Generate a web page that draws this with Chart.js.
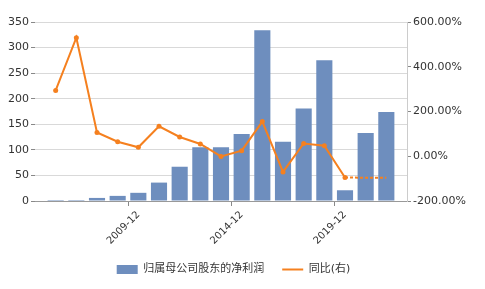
<!DOCTYPE html>
<html>
<head>
<meta charset="utf-8">
<script src="https://cdn.jsdelivr.net/npm/chart.js@4/dist/chart.umd.min.js"></script>
<style>
  html, body { margin: 0; padding: 0; background: #fff; }
  #wrap { width: 485px; height: 289px; }
</style>
</head>
<body>
<div id="wrap"><canvas id="c" width="485" height="289"></canvas></div>
<script>
// 报告期（首尾留空位）
const periods = ["", "2005-12", "2006-12", "2007-12", "2008-12", "2009-12", "2010-12", "2011-12", "2012-12",
  "2013-12", "2014-12", "2015-12", "2016-12", "2017-12", "2018-12", "2019-12", "2020-12", "2021-12", ""];
const shownTicks = ["2009-12", "2014-12", "2019-12"];

// 归属母公司股东的净利润
const netProfit = [null, 2, 2, 6, 10, 16, 36, 67, 105, 105, 131, 334, 116, 181, 275, 21, 133, 174, null];
// 同比(右) %
const yoy = [null, 294, 530, 106, 65, 40, 134, 86, 55, -1, 25, 155, -70, 57, 47, -95, -96, -96, null];

const leftTicks = { min: 0, max: 350, step: 50 };
const rightTicks = { min: -200, max: 600, step: 200 };

const font = { family: "'DejaVu Sans', 'Noto Sans CJK SC', sans-serif", size: 11 };
const txt = "#333";
const gridCol = "#d9d9d9";

new Chart(document.getElementById("c"), {
  data: {
    labels: periods,
    datasets: [
      {
        type: "line",
        label: "同比(右)",
        data: yoy,
        yAxisID: "y1",
        borderColor: "#f5801f",
        backgroundColor: "#f5801f",
        borderWidth: 2,
        pointRadius: ctx => (ctx.dataIndex <= 15 ? 2.5 : 0),
        pointBorderWidth: 0,
        segment: { borderDash: ctx => (ctx.p0DataIndex >= 15 ? [3, 2] : undefined) },
        order: 0
      },
      {
        type: "bar",
        label: "归属母公司股东的净利润",
        data: netProfit,
        yAxisID: "y",
        backgroundColor: "#6e8ebe",
        barPercentage: 0.78,
        categoryPercentage: 1,
        order: 1
      }
    ]
  },
  options: {
    responsive: false,
    animation: false,
    layout: { padding: { top: 22, right: 18, left: 0, bottom: 4 } },
    plugins: {
      tooltip: { enabled: false },
      legend: {
        position: "bottom",
        reverse: true,
        labels: {
          font: font,
          color: txt,
          usePointStyle: true,
          pointStyleWidth: 21,
          boxHeight: 9,
          padding: 18,
          generateLabels: chart => {
            const items = Chart.defaults.plugins.legend.labels.generateLabels(chart);
            items.forEach(it => {
              const ds = chart.data.datasets[it.datasetIndex];
              it.pointStyle = ds.type === "line" ? "line" : "rect";
              it.lineWidth = ds.type === "line" ? 2 : 0;
            });
            return items;
          }
        }
      }
    },
    scales: {
      x: {
        offset: false,
        grid: {
          drawOnChartArea: false,
          tickLength: 5,
          tickColor: ctx => (shownTicks.includes(periods[ctx.index]) ? "#888" : "rgba(0,0,0,0)")
        },
        border: { color: "#999" },
        ticks: {
          autoSkip: false,
          minRotation: 45,
          maxRotation: 45,
          font: { family: font.family, size: 10 },
          color: txt,
          callback: (v, i) => (shownTicks.includes(periods[i]) ? periods[i] : "")
        },
        afterFit: s => { s.height = 45; }
      },
      y: {
        position: "left",
        min: leftTicks.min,
        max: leftTicks.max,
        ticks: { stepSize: leftTicks.step, font: font, color: txt, padding: 2 },
        grid: { color: gridCol, tickLength: 4, tickColor: "#888" },
        border: { display: false },
        afterFit: s => { s.width = 35; }
      },
      y1: {
        position: "right",
        min: rightTicks.min,
        max: rightTicks.max,
        ticks: {
          stepSize: rightTicks.step,
          font: font,
          color: txt,
          padding: 2,
          callback: v => v.toFixed(2) + "%"
        },
        grid: { drawOnChartArea: false, tickLength: 4, tickColor: "#888" },
        border: { color: "#ccc" },
        afterFit: s => { s.width = 60; }
      }
    }
  }
});
</script>
</body>
</html>
